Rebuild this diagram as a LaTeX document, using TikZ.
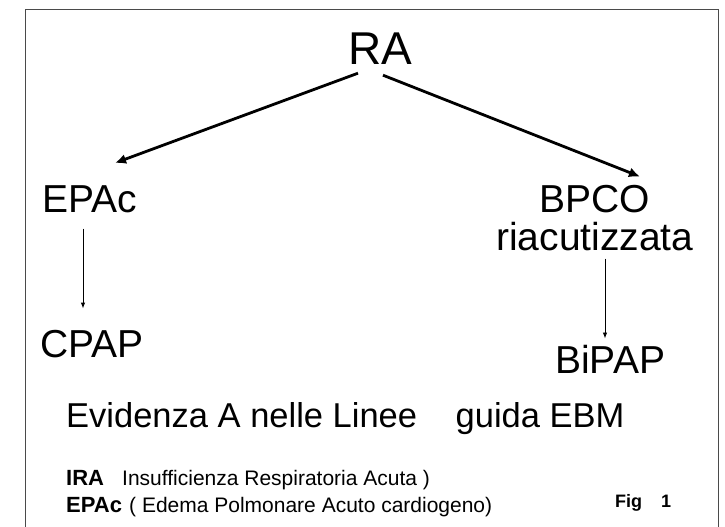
\documentclass[tikz,border=0pt]{standalone}
\usepackage{fontspec}
\setmainfont{Liberation Sans}
\usetikzlibrary{arrows.meta,calc,positioning}
\definecolor{framegrey}{HTML}{4A4A4A}

\begin{document}
\begin{tikzpicture}[x=1pt,y=-1pt,
    lbl/.style={inner sep=0pt,anchor=base west,font=\fontsize{39}{41}\selectfont},
    legend/.style={inner sep=0pt,anchor=base west,font=\fontsize{21}{24}\selectfont},
    legendbold/.style={legend,font=\bfseries\fontsize{22}{24}\selectfont},
    bigarrow/.style={-{Latex[length=11pt,width=10pt]},line width=2.8pt},
    thinarrow/.style={-{Latex[length=6pt,width=4.5pt]},line width=0.9pt}]
    \useasboundingbox (0,0) rectangle (725,527);
    \draw[framegrey,line width=1pt] (25,527) |- (718,9.5) -- (718,527);
    \node[lbl,font=\fontsize{46}{48}\selectfont] (ra) at (348,65) {RA};
    \node[lbl] (epac) at (42,212) {EPAc};
    \node[lbl] (bpco) at (539,212) {BPCO};
    \node[lbl] (riac) at (496,250) {riacutizzata};
    \node[lbl] (cpap) at (40,357) {CPAP};
    \node[lbl] (bipap) at (555,373) {BiPAP};
    \draw[bigarrow] ([shift={(10,8)}]ra.south west) -- ([shift={(-22,-22)}]epac.north east);
    \draw[bigarrow] ([shift={(35,10)}]ra.south west) -- ([shift={(-10,-8)}]bpco.north east);
    \draw[thinarrow] ([shift={(41,16)}]epac.south west) -- ([shift={(43,-21)}]cpap.north west);
    \draw[thinarrow] ([shift={(109,8)}]riac.south west) -- ([shift={(50,-6)}]bipap.north west);
    \node[lbl,font=\fontsize{34.5}{36}\selectfont] (evid) at (66,427) {Evidenza A nelle Linee\hspace{29pt} guida EBM};
    % legenda
    \node[legendbold] (ira) at (66,485) {IRA};
    \node[legend] (iradef) at (122,485) {Insufficienza Respiratoria Acuta )};
    \node[legendbold] (epacb) at (66,512) {EPAc};
    \node[legend] (epacdef) at (129,512) {( Edema Polmonare Acuto cardiogeno)};
    \node[legendbold,font=\bfseries\fontsize{18}{20}\selectfont] (fig) at (615,507) {Fig\hspace{14pt} 1};
\end{tikzpicture}
\end{document}
